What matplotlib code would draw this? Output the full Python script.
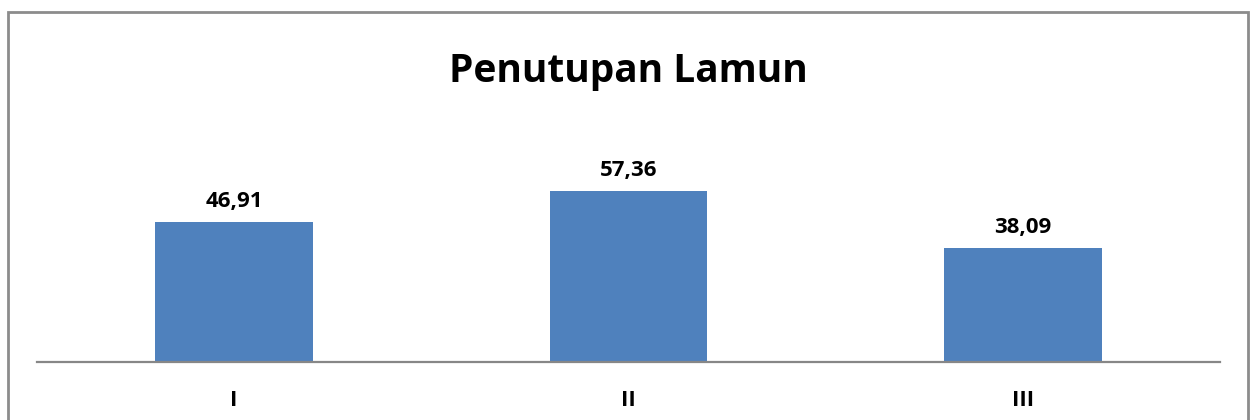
import matplotlib
matplotlib.use("Agg")
import matplotlib.pyplot as plt
from matplotlib.patches import Rectangle

categories = ["I", "II", "III"]
values = [46.91, 57.36, 38.09]
value_labels = ["46,91", "57,36", "38,09"]
title = "Penutupan Lamun"

plt.rcParams['font.family'] = ['Open Sans', 'DejaVu Sans']

W, H = 1257, 420
fig = plt.figure(figsize=(W / 100, H / 100), dpi=100)
fig.patch.set_facecolor("white")

# outer chart border (extends beyond bottom edge)
fig.add_artist(Rectangle((7.5 / W, -0.05), (1248 - 7.5) / W, 1.05 - 12 / H,
                         transform=fig.transFigure, fill=False,
                         edgecolor="#8c8c8c", linewidth=2.0))

ax = fig.add_axes([37 / W, (H - 362) / H, 1183 / W, 209 / H])
x = list(range(len(categories)))
ax.bar(x, values, width=0.4, color="#4F81BD", zorder=2)
ax.set_xlim(-0.5, 2.5)
ax.set_ylim(0, 70)

for s in ["top", "right", "left"]:
    ax.spines[s].set_visible(False)
ax.spines["bottom"].set_color("#878787")
ax.spines["bottom"].set_linewidth(1.6)
ax.set_yticks([])
ax.set_xticks(x)
ax.set_xticklabels(categories, fontsize=16, fontweight="bold")
ax.tick_params(axis="x", length=0, pad=20)

for xi, v, lab in zip(x, values, value_labels):
    ax.annotate(lab, (xi, v), xytext=(0, 10.8), textcoords="offset points",
                ha="center", va="baseline", fontsize=16, fontweight="bold")

fig.text(628 / W, 1 - 82 / H, title, ha="center", va="baseline",
         fontsize=28, fontweight="bold")

fig.savefig("out.png", dpi=100)
